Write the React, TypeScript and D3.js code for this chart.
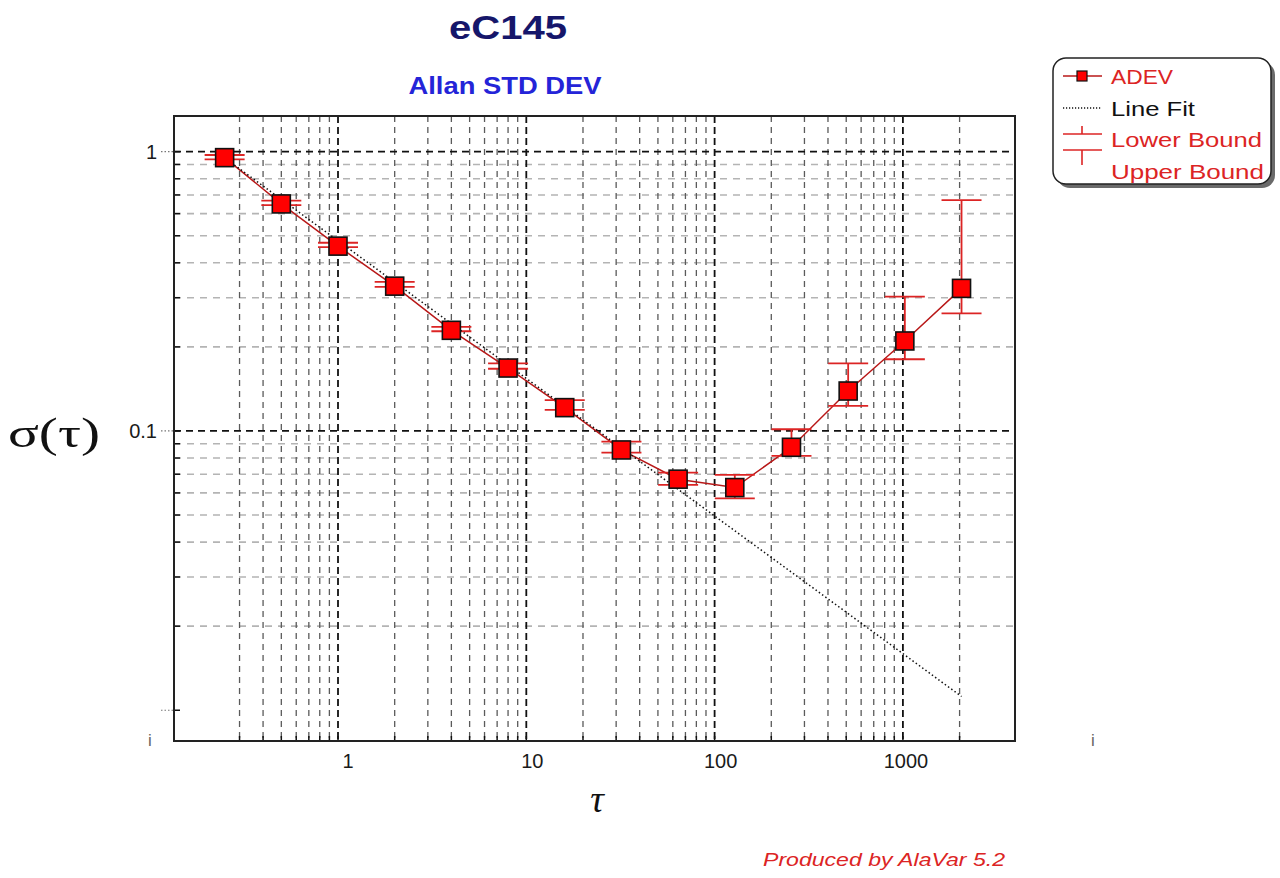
import React from "react";
import * as d3 from "d3";

// ---- data ----
const tau = [0.25, 0.5, 1, 2, 4, 8, 16, 32, 64, 128, 256, 512, 1024, 2048];
const adev = [0.952, 0.65, 0.459, 0.33, 0.2293, 0.168, 0.1212, 0.0855, 0.0672, 0.0627, 0.0874, 0.139, 0.21, 0.324];
const lowerBound = [0.939, 0.644, 0.455, 0.328, 0.2275, 0.167, 0.119, 0.0836, 0.0641, 0.0574, 0.0814, 0.1229, 0.1806, 0.2638];
const upperBound = [0.973, 0.668, 0.472, 0.342, 0.236, 0.1747, 0.129, 0.0916, 0.0709, 0.0696, 0.1014, 0.1747, 0.3027, 0.671];
const fitTau = [0.25, 2048];
const fitValue = [0.95, 0.0112];

const xMajorGrid = [1, 10, 100, 1000];
const xMinorGrid = [0.3, 0.4, 0.5, 0.6, 0.7, 0.8, 0.9, 2, 3, 4, 5, 6, 7, 8, 9, 20, 30, 40, 50, 60, 70, 80, 90, 200, 300, 400, 500, 600, 700, 800, 900, 2000];
const yMajorGrid = [1, 0.1];
const yMinorGrid = [0.9, 0.8, 0.7, 0.6, 0.5, 0.4, 0.3, 0.2, 0.09, 0.08, 0.07, 0.06, 0.05, 0.04, 0.03, 0.02];
const xTickLabels = ["1", "10", "100", "1000"];
const xTickValues = [1, 10, 100, 1000];
const yTickLabels = ["1", "0.1"];
const yTickValues = [1, 0.1];
const yDotTicks = [1, 0.1, 0.01];

const xDomain = [0.1346, 3938];
const yDomain = [0.00776, 1.342];

const legendItems = ["ADEV", "Line Fit", "Lower Bound", "Upper Bound"];
const legendWidths = [62, 84, 151, 153];

export default function App() {
  const left = 174, right = 1015, top = 116, bottom = 741;
  const x = d3.scaleLog().domain(xDomain).range([left, right]);
  const y = d3.scaleLog().domain(yDomain).range([bottom, top]);
  const line = d3.line<number>().x((_, i) => x(tau[i])).y((d) => y(d));
  const fitLine = d3.line<number>().x((_, i) => x(fitTau[i])).y((d) => y(d));
  const red = "#dc2424";
  const font = "'Liberation Sans', Arial, sans-serif";
  const mk = 18;
  const capW = 20;

  return (
    <svg width={1280} height={878} style={{ position: "absolute", left: 0, top: 0, background: "#fff" }}>
      <rect x={0} y={0} width={1280} height={878} fill="#fff" />
      {/* titles */}
      <text x={508} y={39} textAnchor="middle" fontFamily={font} fontWeight="bold" fontSize={34} fill="#16166a" textLength={118} lengthAdjust="spacingAndGlyphs">eC145</text>
      <text x={505} y={94} textAnchor="middle" fontFamily={font} fontWeight="bold" fontSize={23} fill="#2424d8" textLength={193} lengthAdjust="spacingAndGlyphs">Allan STD DEV</text>

      {/* grid: horizontal minor */}
      {yMinorGrid.map((v, i) => (
        <line key={"hm" + i} x1={left} x2={right} y1={y(v)} y2={y(v)} stroke="#b4b4b4" strokeWidth={1.6} strokeDasharray="7,6" />
      ))}
      {/* vertical minor */}
      {xMinorGrid.map((v, i) => (
        <line key={"vm" + i} x1={x(v)} x2={x(v)} y1={top} y2={bottom} stroke="#5a5a5a" strokeWidth={1.3} strokeDasharray="6,5" />
      ))}
      {yMajorGrid.map((v, i) => (
        <line key={"hM" + i} x1={left} x2={right} y1={y(v)} y2={y(v)} stroke="#111" strokeWidth={1.8} strokeDasharray="7,5" />
      ))}
      {xMajorGrid.map((v, i) => (
        <line key={"vM" + i} x1={x(v)} x2={x(v)} y1={top} y2={bottom} stroke="#111" strokeWidth={1.8} strokeDasharray="7,4" />
      ))}

      {/* axis ticks */}
      {[...xMinorGrid, ...xMajorGrid].map((v, i) => (
        <line key={"xt" + i} x1={x(v)} x2={x(v)} y1={bottom} y2={bottom - 5} stroke="#111" strokeWidth={1.5} />
      ))}
      {[...yMinorGrid, ...yMajorGrid, 0.01].map((v, i) => (
        <line key={"yt" + i} x1={left} x2={left + 6} y1={y(v)} y2={y(v)} stroke="#111" strokeWidth={1.5} />
      ))}
      {yDotTicks.map((v, i) => (
        <line key={"yd" + i} x1={161} x2={173} y1={y(v)} y2={y(v)} stroke="#777" strokeWidth={1.2} strokeDasharray="1.5,2" />
      ))}

      {/* frame */}
      <rect x={left} y={top} width={right - left} height={bottom - top} fill="none" stroke="#222" strokeWidth={2} />

      {/* tick labels */}
      {xTickValues.map((v, i) => (
        <text key={"xl" + i} x={x(v) + (i === 0 ? 10 : i === 3 ? 3 : 6)} y={768} textAnchor="middle" fontFamily={font} fontSize={20} fill="#1a1a1a">{xTickLabels[i]}</text>
      ))}
      {yTickValues.map((v, i) => (
        <text key={"yl" + i} x={157} y={y(v) + 7} textAnchor="end" fontFamily={font} fontSize={20} fill="#1a1a1a">{yTickLabels[i]}</text>
      ))}
      <text x={150} y={746} textAnchor="middle" fontFamily={font} fontSize={17} fill="#666">i</text>
      <text x={1093} y={746} textAnchor="middle" fontFamily={font} fontSize={17} fill="#666">i</text>

      {/* axis titles */}
      <text x={8} y={447} fontFamily="'Liberation Serif', 'Times New Roman', serif" fontSize={42} fill="#111" textLength={92} lengthAdjust="spacingAndGlyphs">σ(τ)</text>
      <text x={597} y={812} textAnchor="middle" fontFamily="'Liberation Serif', 'Times New Roman', serif" fontStyle="italic" fontSize={38} fill="#111">τ</text>

      {/* ADEV line */}
      <path d={line(adev) || ""} fill="none" stroke="#b81818" strokeWidth={1.5} />
      {/* error bars */}
      {tau.map((t, i) => (
        <g key={"eb" + i} stroke={red} strokeWidth={1.8}>
          <line x1={x(t)} x2={x(t)} y1={y(lowerBound[i])} y2={y(upperBound[i])} />
          <line x1={x(t) - capW} x2={x(t) + capW} y1={y(lowerBound[i])} y2={y(lowerBound[i])} />
          <line x1={x(t) - capW} x2={x(t) + capW} y1={y(upperBound[i])} y2={y(upperBound[i])} />
        </g>
      ))}
      {/* line fit */}
      <path d={fitLine(fitValue) || ""} fill="none" stroke="#111" strokeWidth={1.5} strokeDasharray="1.5,2.5" />
      {/* markers */}
      {tau.map((t, i) => (
        <rect key={"m" + i} x={x(t) - mk / 2} y={y(adev[i]) - mk / 2} width={mk} height={mk} fill="#ff0000" stroke="#111" strokeWidth={1.6} />
      ))}

      {/* legend */}
      <rect x={1057} y={62} width={218} height={126} rx={13} fill="#6a6a6a" />
      <rect x={1053} y={58} width={218} height={126} rx={13} fill="#fff" stroke="#222" strokeWidth={1.5} />
      <line x1={1063} x2={1102} y1={76} y2={76} stroke="#b81818" strokeWidth={1.5} />
      <rect x={1077} y={71} width={10} height={10} fill="#ff0000" stroke="#111" strokeWidth={1.2} />
      <line x1={1063} x2={1101} y1={108} y2={108} stroke="#111" strokeWidth={1.3} strokeDasharray="1.2,1.8" />
      <g stroke={red} strokeWidth={1.6}>
        <line x1={1063} x2={1102} y1={134} y2={134} />
        <line x1={1082} x2={1082} y1={126} y2={134} />
        <line x1={1063} x2={1102} y1={150} y2={150} />
        <line x1={1082} x2={1082} y1={150} y2={165} />
      </g>
      {legendItems.map((s, i) => (
        <text key={"lg" + i} x={1111} y={84 + i * 31.7} fontFamily={font} fontSize={21} fill={i === 1 ? "#111" : red} textLength={legendWidths[i]} lengthAdjust="spacingAndGlyphs">{s}</text>
      ))}

      {/* footer */}
      <text x={763} y={866} fontFamily={font} fontStyle="italic" fontSize={18} fill={red} textLength={242} lengthAdjust="spacingAndGlyphs">Produced by AlaVar 5.2</text>
    </svg>
  );
}
